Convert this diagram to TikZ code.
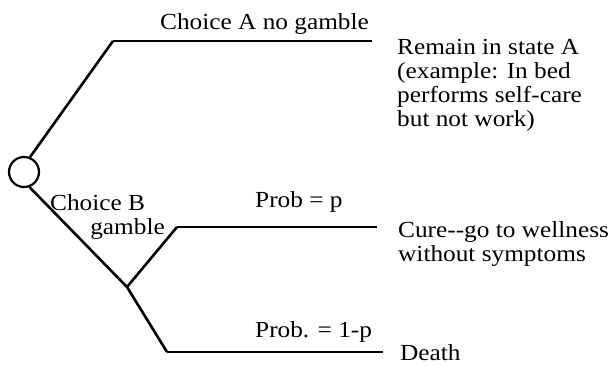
\documentclass[tikz,border=0pt]{standalone}
\usepackage{fontspec}
\setmainfont{Liberation Serif}[FakeStretch=1.1]
\usetikzlibrary{positioning}
\newcommand{\treefont}{\fontsize{23}{24}\selectfont}
\tikzset{
  chance/.style  = {circle, draw, line width=2.2pt, minimum size=30pt, inner sep=0pt},
  branch/.style  = {line width=2.6pt, line join=round},
  payoff/.style  = {line width=2.2pt},
  armlab/.style  = {font=\treefont, inner sep=0pt, anchor=base west},
  outcome/.style = {font=\treefont, inner sep=0pt, align=left, anchor=north west},
}

\begin{document}
\begin{tikzpicture}[x=1pt, y=1pt]
\useasboundingbox (0,0) rectangle (614,367);

% ---------- Tree points ----------
\node[chance] (root) at (24,195) {};
\coordinate (aturn) at (113,326);
\coordinate (aend) at (372,326);
\coordinate (bjunc) at (127,80);
\coordinate (pturn) at (177,140);
\coordinate (pend) at (377,140);
\coordinate (qturn) at (167,15);
\coordinate (qend) at (383,15);

% ---------- Labels ----------
\node[armlab] (choicea) at (160,337) {Choice A no gamble};
\node[armlab] (choiceb) at (50,156) {Choice B};
\node[armlab, anchor=base east] (gamble) at (165,132) {gamble};
\node[armlab] (probp) at (255,159) {Prob = p};
\node[armlab] (probq) at (255,29) {Prob. = 1-p};

% ---------- Outcomes ----------
\node[outcome] (remain) at (397,328) {Remain in state A\\(example: In bed\\performs self-care\\but not work)};
\node[outcome] (cure) at (398,146) {Cure-{}-go to wellness\\without symptoms};
\node[armlab] (death) at (400,6) {Death};

% ---------- Branches ----------
\draw[branch] (root.68) -- (aturn);
\draw[payoff] (aturn) -- (aend);
\draw[branch] (root.-70) -- (bjunc);
\draw[branch] (bjunc) -- (pturn);
\draw[payoff] (pturn) -- (pend);
\draw[branch] (bjunc) -- (qturn);
\draw[payoff] (qturn) -- (qend);

\end{tikzpicture}
\end{document}
